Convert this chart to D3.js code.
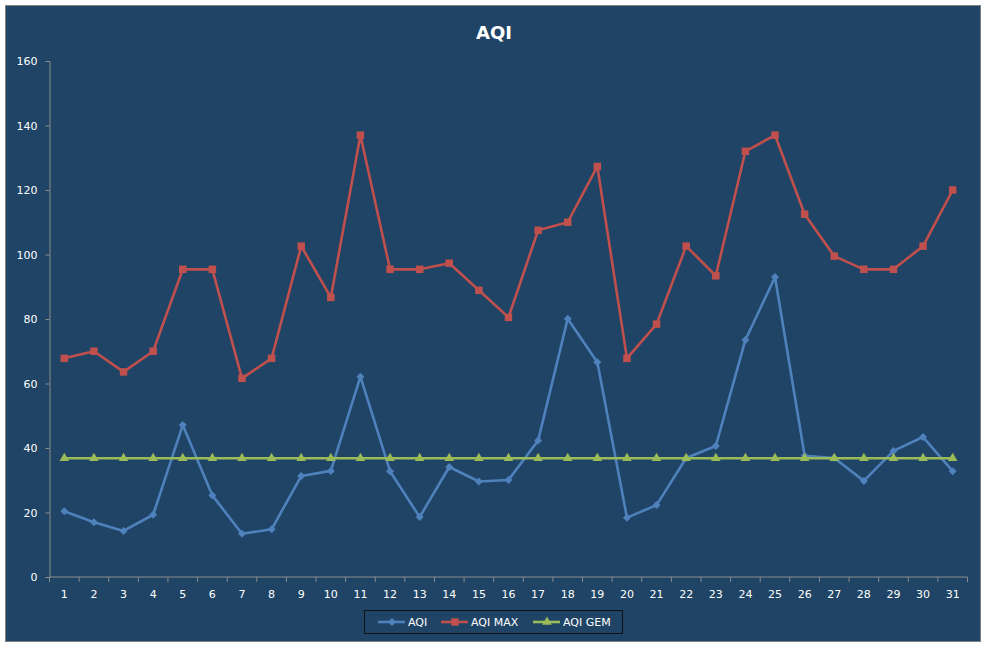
<!DOCTYPE html>
<html>
<head>
<meta charset="utf-8">
<script src="https://cdn.jsdelivr.net/npm/d3@7"></script>
<style>
  html, body { margin: 0; padding: 0; background: #ffffff; }
  svg { display: block; }
</style>
</head>
<body>
<svg id="chart" width="987" height="648"></svg>
<script>
const days = d3.range(1, 32).map(String);
const aqi = [20.4, 17, 14.3, 19.3, 47.1, 25.3, 13.4, 14.8, 31.3, 32.9,
             62.1, 32.8, 18.6, 34.1, 29.6, 30.1, 42.3, 80.1, 66.6, 18.4,
             22.3, 36.9, 40.6, 73.5, 93, 37.6, 36.9, 29.8, 39.1, 43.4, 32.8];
const aqiMax = [67.8, 70, 63.6, 70, 95.4, 95.4, 61.6, 67.8, 102.6, 86.7,
                137, 95.4, 95.4, 97.3, 88.9, 80.5, 107.5, 110, 127.3, 67.8,
                78.4, 102.6, 93.4, 132, 137, 112.5, 99.5, 95.4, 95.4, 102.6, 120];
const aqiGem = days.map(() => 36.8);
const yTicks = [0, 20, 40, 60, 80, 100, 120, 140, 160];
const seriesNames = ["AQI", "AQI MAX", "AQI GEM"];

const colors = { "AQI": "#4F81BD", "AQI MAX": "#C0504D", "AQI GEM": "#9BBB59" };
const wideDiamond = {
  draw(ctx, size) {
    const r = Math.sqrt(size / 2);
    ctx.moveTo(0, -r); ctx.lineTo(r, 0); ctx.lineTo(0, r); ctx.lineTo(-r, 0); ctx.closePath();
  }
};
const series = [
  { name: "AQI", values: aqi, symbol: wideDiamond, size: 32 },
  { name: "AQI MAX", values: aqiMax, symbol: d3.symbolSquare, size: 56 },
  { name: "AQI GEM", values: aqiGem, symbol: d3.symbolTriangle, size: 40 }
];

const svg = d3.select("#chart");
const font = "Verdana, 'DejaVu Sans', sans-serif";

// chart area background with border
svg.append("rect")
  .attr("x", 5.5).attr("y", 5.5).attr("width", 975).attr("height", 636)
  .attr("fill", "#1F4465").attr("stroke", "#808080").attr("stroke-width", 1);

const pL = 49.5, pR = 967.5, pT = 61, pB = 577;

const x = d3.scaleBand().domain(days).range([pL, pR]).padding(0);
const y = d3.scaleLinear().domain([0, 160]).range([pB, pT]);

// title
svg.append("text")
  .attr("x", 494).attr("y", 39)
  .attr("text-anchor", "middle")
  .attr("fill", "#ffffff")
  .attr("font-family", font)
  .attr("font-weight", "bold")
  .attr("font-size", 18)
  .text("AQI");

// y axis
const yAxis = svg.append("g")
  .attr("transform", `translate(${pL},0)`)
  .call(d3.axisLeft(y).tickValues(yTicks).tickSize(4).tickPadding(8));
yAxis.select(".domain").attr("stroke", "#8C8C8C");
yAxis.selectAll(".tick line").attr("stroke", "#8C8C8C");
yAxis.selectAll(".tick text")
  .attr("fill", "#ffffff").attr("font-family", font).attr("font-size", 11);

// x axis
const xAxis = svg.append("g")
  .attr("transform", `translate(0,${pB})`)
  .call(d3.axisBottom(x).tickSize(0).tickPadding(13));
xAxis.select(".domain").attr("stroke", "#8C8C8C").attr("d", `M${pL},0H${pR}`);
xAxis.selectAll(".tick text")
  .attr("fill", "#ffffff").attr("font-family", font).attr("font-size", 11);
// tick marks at category boundaries
const boundaries = days.map(d => x(d)).concat([x(days[days.length - 1]) + x.bandwidth()]);
xAxis.selectAll(".bnd").data(boundaries).enter().append("line")
  .attr("x1", d => d).attr("x2", d => d)
  .attr("y1", 0).attr("y2", 5)
  .attr("stroke", "#8C8C8C");

const cx = d => x(d) + x.bandwidth() / 2;

// lines and markers
series.forEach(s => {
  const line = d3.line().x((v, i) => cx(days[i])).y(v => y(v));
  svg.append("path")
    .datum(s.values)
    .attr("fill", "none")
    .attr("stroke", colors[s.name])
    .attr("stroke-width", 2.6)
    .attr("stroke-linejoin", "round")
    .attr("d", line);
  svg.append("g").selectAll("path")
    .data(s.values).enter().append("path")
    .attr("transform", (v, i) => `translate(${cx(days[i])},${y(v)})`)
    .attr("d", d3.symbol().type(s.symbol).size(s.size))
    .attr("fill", colors[s.name]);
});

// legend
const legend = svg.append("g");
legend.append("rect")
  .attr("x", 364.5).attr("y", 610.5).attr("width", 258).attr("height", 23)
  .attr("fill", "none").attr("stroke", "#111111").attr("stroke-width", 1);
const legX = [378, 441, 533];
series.forEach((s, i) => {
  const g = legend.append("g").attr("transform", `translate(${legX[i]},622)`);
  g.append("line").attr("x1", 0).attr("x2", 27).attr("y1", 0).attr("y2", 0)
    .attr("stroke", colors[s.name]).attr("stroke-width", 2.6);
  g.append("path").attr("transform", "translate(14,0)")
    .attr("d", d3.symbol().type(s.symbol).size(s.size))
    .attr("fill", colors[s.name]);
  g.append("text").attr("x", 30).attr("y", 4)
    .attr("fill", "#ffffff").attr("font-family", font).attr("font-size", 11)
    .text(seriesNames[i]);
});
</script>
</body>
</html>
